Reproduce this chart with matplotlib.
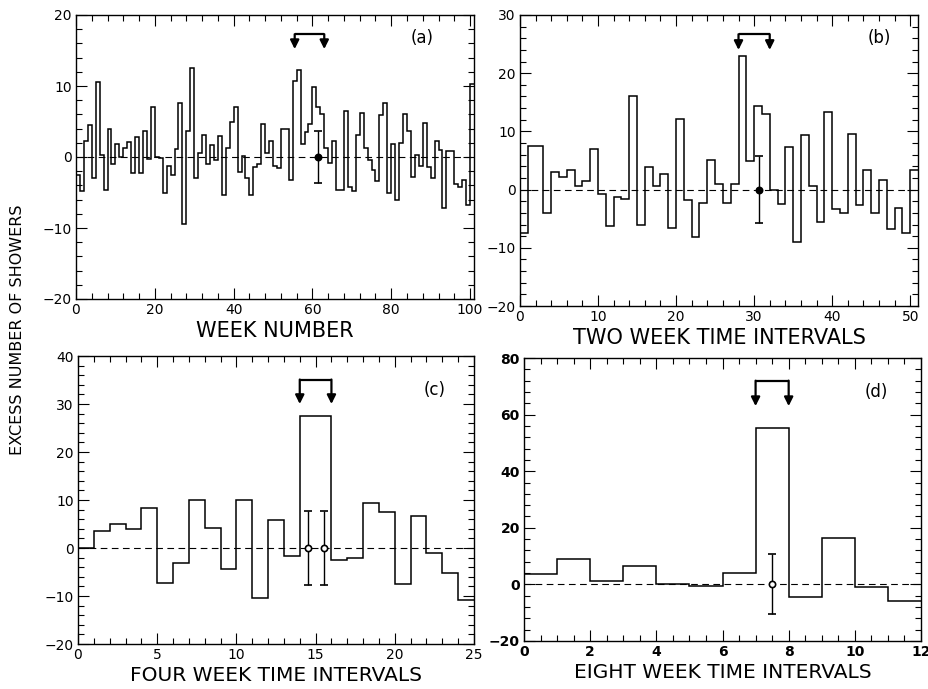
import numpy as np
import matplotlib.pyplot as plt
from matplotlib.ticker import MultipleLocator

# excess number of showers per bin
week_excess = [
    -2.5, -4.8, 2.2, 4.5, -3.0, 10.5, 0.3, -4.6, 3.9, -1.0,
    1.8, 0.0, 1.2, 2.1, -2.3, 2.8, -2.2, 3.6, -0.3, 7.0,
    0.0, -0.2, -5.1, -1.3, -2.5, 1.1, 7.6, -9.4, 3.7, 12.5,
    -3.0, 0.6, 3.1, -1.0, 1.7, -0.4, 2.9, -5.3, 1.2, 4.9,
    7.1, -2.1, 0.2, -3.0, -5.3, -1.4, -1.0, 4.6, 0.5, 2.3,
    -1.3, -1.5, 4.0, 4.0, -3.2, 10.7, 12.2, 1.9, 3.5, 4.6,
    9.9, 7.1, 6.1, 1.2, -0.9, 2.3, -4.6, -4.6, 6.5, -4.2,
    -4.8, 3.1, 6.2, 1.2, -0.4, -1.8, -3.4, 5.9, 7.6, -5.0,
    1.9, -6.0, 2.0, 6.1, 3.7, -2.8, 0.3, -1.3, 4.8, -1.4,
    -3.0, 2.3, 1.0, -7.2, 0.9, 0.9, -3.8, -4.2, -3.3, -6.8,
    10.3,
]
two_week_excess = [
    -7.5, 7.5, 7.5, -4.0, 3.0, 2.1, 3.4, 0.7, 1.5, 7.0,
    -0.7, -6.3, -1.3, -1.7, 16.0, -6.0, 3.8, 0.7, 2.6, -6.6,
    12.1, -1.8, -8.2, -2.3, 5.1, 1.0, -2.3, 0.9, 22.9, 4.9,
    14.4, 13.0, 0.0, -2.5, 7.3, -9.0, 9.3, 0.6, -5.6, 13.4,
    -3.3, -4.0, 9.5, -2.6, 3.3, -4.0, 1.7, -6.7, -3.1, -7.5,
    3.3,
]
four_week_excess = [
    0.0, 3.5, 5.1, 4.0, 8.4, -7.3, -3.1, 9.9, 4.2, -4.3,
    10.1, -10.4, 5.9, -1.7, 27.6, 27.4, -2.6, -2.0, 9.4, 7.5,
    -7.4, 6.7, -1.0, -5.2, -10.9,
]
eight_week_excess = [3.5, 8.8, 1.2, 6.6, 0.0, -0.5, 3.9, 55.1, -4.4, 16.5, -0.8, -5.9]

# expected fluctuation: x positions and half heights
week_err_x, week_err_y = [61.5], [3.7]
two_week_err_x, two_week_err_y = [30.6], [5.7]
four_week_err_x, four_week_err_y = [14.5, 15.5], [7.8, 7.8]
eight_week_err_x, eight_week_err_y = [7.5], [10.6]

# bracketed interval: left, right, line height, arrow tip height
week_bracket = (55.5, 63.0, 17.3, 15.2)
two_week_bracket = (28.0, 32.0, 26.7, 24.0)
four_week_bracket = (14.0, 16.0, 35.1, 30.0)
eight_week_bracket = (7.0, 8.0, 72.0, 63.0)

W, H = 929, 689
fig = plt.figure(figsize=(W / 100, H / 100), dpi=100)


def rect(left, top, right, bottom):
    return [left / W, 1 - bottom / H, (right - left) / W, (bottom - top) / H]


panels = [
    dict(vals=week_excess, rect=rect(76, 15, 474, 299), ylim=(-20, 20), ymaj=10, ymin=2,
         xmaj=20, xmin=4, ex=week_err_x, ey=week_err_y, br=week_bracket,
         tag="(a)", tag_xy=(87.8, 16.8), xlabel="WEEK NUMBER", mfc="k"),
    dict(vals=two_week_excess, rect=rect(520, 15, 918, 306), ylim=(-20, 30), ymaj=10, ymin=2,
         xmaj=10, xmin=2, ex=two_week_err_x, ey=two_week_err_y, br=two_week_bracket,
         tag="(b)", tag_xy=(46.1, 26.0), xlabel="TWO WEEK TIME INTERVALS", mfc="k"),
    dict(vals=four_week_excess, rect=rect(78, 356, 474, 644), ylim=(-20, 40), ymaj=10, ymin=2,
         xmaj=5, xmin=1, ex=four_week_err_x, ey=four_week_err_y, br=four_week_bracket,
         tag="(c)", tag_xy=(22.5, 32.9), xlabel="FOUR WEEK TIME INTERVALS", mfc="white"),
    dict(vals=eight_week_excess, rect=rect(524, 358, 921, 641), ylim=(-20, 80), ymaj=20, ymin=4,
         xmaj=2, xmin=0.5, ex=eight_week_err_x, ey=eight_week_err_y, br=eight_week_bracket,
         tag="(d)", tag_xy=(10.65, 68.0), xlabel="EIGHT WEEK TIME INTERVALS", mfc="white"),
]

for i, p in enumerate(panels):
    ax = fig.add_axes(p["rect"])
    vals = np.array(p["vals"])
    edges = np.arange(len(vals) + 1)
    ax.axhline(0, color="k", lw=0.8, ls=(0, (6, 4)), zorder=1)
    ax.stairs(vals, edges, baseline=None, color="k", lw=1.1, zorder=2)
    ax.errorbar(p["ex"], np.zeros(len(p["ex"])), yerr=p["ey"], fmt="o", color="k",
                mfc=p["mfc"], mec="k", ms=4.5, mew=1.2, capsize=3, elinewidth=1.0,
                capthick=1.0, zorder=3)

    x1, x2, top, tip = p["br"]
    ax.plot([x1, x2], [top, top], color="k", lw=1.6, solid_capstyle="butt")
    for xb in (x1, x2):
        ax.annotate("", xy=(xb, tip), xytext=(xb, top),
                    arrowprops=dict(arrowstyle="-|>", color="k", lw=1.6,
                                    mutation_scale=13, shrinkA=0, shrinkB=0))
    ax.text(*p["tag_xy"], p["tag"], fontsize=12, ha="center", va="center")

    ax.set_xlim(0, len(vals))
    ax.set_ylim(*p["ylim"])
    ax.xaxis.set_major_locator(MultipleLocator(p["xmaj"]))
    ax.xaxis.set_minor_locator(MultipleLocator(p["xmin"]))
    ax.yaxis.set_major_locator(MultipleLocator(p["ymaj"]))
    ax.yaxis.set_minor_locator(MultipleLocator(p["ymin"]))
    ax.tick_params(which="both", direction="in", top=True, right=True, width=0.8)
    ax.tick_params(which="major", length=8, labelsize=10, pad=3)
    ax.tick_params(which="minor", length=4)
    for s in ax.spines.values():
        s.set_linewidth(1.0)

    if i < 2:
        ax.set_xlabel(p["xlabel"], fontsize=15, labelpad=3)
    else:
        ax.set_xlabel(p["xlabel"], fontsize=14.5, labelpad=3,
                      family=["Liberation Sans Narrow", "DejaVu Sans"])
    if i == 3:
        for lab in ax.get_xticklabels() + ax.get_yticklabels():
            lab.set_fontweight("bold")

fig.text(18 / W, 1 - 330 / H, "EXCESS NUMBER OF SHOWERS", rotation=90,
         ha="center", va="center", fontsize=11.5)

fig.savefig("out.png", dpi=100)
